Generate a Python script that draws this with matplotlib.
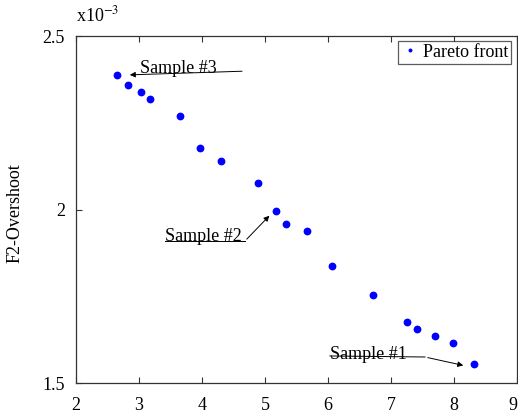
import matplotlib
matplotlib.use("Agg")
import matplotlib.pyplot as plt
from matplotlib.ticker import FuncFormatter

plt.rcParams['font.family'] = ['Liberation Serif', 'DejaVu Serif']
plt.rcParams['mathtext.fontset'] = 'stix'

# pareto front (F1 on x, F2-overshoot on y)
f1 = [2.65, 2.83, 3.03, 3.17, 3.65, 3.97, 4.30, 4.89, 5.17, 5.33,
      5.67, 6.06, 6.72, 7.26, 7.42, 7.70, 7.98, 8.31]
f2 = [2.389e-3, 2.360e-3, 2.339e-3, 2.318e-3, 2.269e-3, 2.178e-3, 2.141e-3,
      2.077e-3, 1.995e-3, 1.958e-3, 1.938e-3, 1.837e-3, 1.755e-3, 1.676e-3,
      1.656e-3, 1.635e-3, 1.615e-3, 1.555e-3]

fig = plt.figure(figsize=(5.18, 4.13), dpi=100)
ax = fig.add_axes([0.1467, 0.0726, 0.8514, 0.840])

ax.plot(f1, f2, 'o', color='#0000ff', ms=4.6, mec='#0000ff', label='Pareto front')

ax.set_xlim(2, 9)
ax.set_ylim(1.5e-3, 2.5e-3)
ax.set_xticks(range(2, 10))
ax.set_yticks([1.5e-3, 2e-3, 2.5e-3])
ax.yaxis.set_major_formatter(FuncFormatter(lambda v, p: '%g' % round(v * 1e3, 3)))
ax.tick_params(direction='in', top=True, right=False, labelsize=13, length=4,
               width=0.8, colors='#333333', labelcolor='black')
ax.tick_params(axis='x', pad=10)
ax.tick_params(axis='y', pad=8)
for s in ax.spines.values():
    s.set_color('#333333')
    s.set_linewidth(0.9)
xl = ax.get_xticklabels()
xl[-1].set_ha('right')

ax.text(0.0, 1.03, r'x10$^{-3}$', transform=ax.transAxes, fontsize=13,
        ha='left', va='bottom')
ax.set_ylabel('F2-Overshoot', fontsize=13)
ax.yaxis.set_label_coords(-0.118, 0.49)

# sample annotations
ax.annotate('', xy=(2.81, 2.388e-3), xytext=(4.68, 2.399e-3),
            arrowprops=dict(arrowstyle='-|>', color='black', lw=0.7, mutation_scale=8))
ax.text(3.02, 2.408e-3, 'Sample #3', fontsize=13, va='center', ha='left')

ax.plot([3.41, 4.68], [1.909e-3, 1.909e-3], color='black', lw=0.7)
ax.annotate('', xy=(5.10, 1.988e-3), xytext=(4.68, 1.909e-3),
            arrowprops=dict(arrowstyle='-|>', color='black', lw=0.7, mutation_scale=8))
ax.text(3.41, 1.921e-3, 'Sample #2', fontsize=13, va='center', ha='left')

ax.plot([6.03, 7.54], [1.578e-3, 1.575e-3], color='black', lw=0.7)
ax.annotate('', xy=(8.19, 1.549e-3), xytext=(7.54, 1.575e-3),
            arrowprops=dict(arrowstyle='-|>', color='black', lw=0.7, mutation_scale=8))
ax.text(6.03, 1.583e-3, 'Sample #1', fontsize=13, va='center', ha='left')

leg = ax.legend(loc='upper right', fontsize=13, markerscale=0.4, handlelength=1.0,
                handletextpad=0.2, borderpad=0.15, borderaxespad=0, fancybox=False,
                bbox_to_anchor=(0.986, 0.9856))
leg.get_frame().set_edgecolor('#333333')
leg.get_frame().set_linewidth(0.9)

fig.savefig('out.png', dpi=100)
